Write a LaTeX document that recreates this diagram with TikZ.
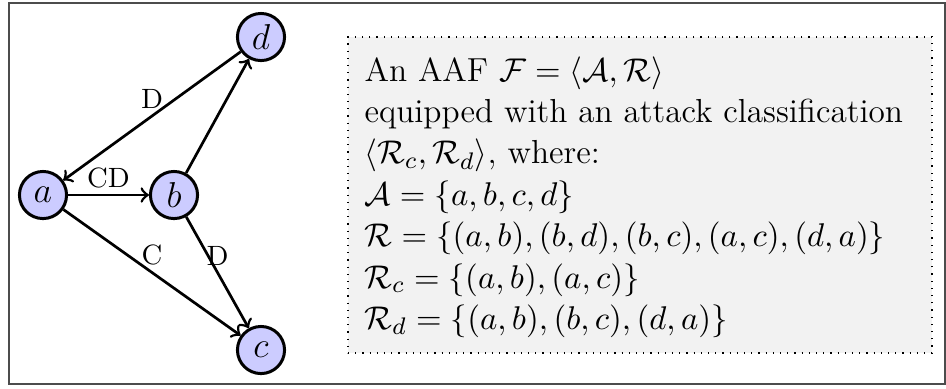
\documentclass[tikz,border=0pt]{standalone}
\usepackage{amsmath,amssymb}
\begin{document}
\begin{tikzpicture}[x=0.3333pt,y=-0.3333pt,
  arg/.style={circle,draw=black,line width=1pt,fill=blue!20,minimum size=15.7pt,inner sep=0pt,font=\fontsize{12}{14}\selectfont},
  att/.style={->,line width=0.9pt},
  lbl/.style={font=\fontsize{9.3}{11}\selectfont,inner sep=2pt},
  infobox/.style={draw=black,dotted,fill=black!5,minimum width=194.67pt,minimum height=105.33pt,inner sep=0pt},
  frame/.style={draw=black!70,line width=0.6pt}]
\useasboundingbox (0,0) rectangle (946,388);
\draw[frame] (9,3) rectangle (945,384);
\node[arg] (a) at (43,195) {$a$};
\node[arg] (b) at (174,195) {$b$};
\node[arg] (c) at (261,350) {$c$};
\node[arg] (d) at (261,37) {$d$};
\draw[att] (a) -- node[lbl,above] {CD} (b);
\draw[att] (b) -- (d);
\draw[att] (b) -- node[lbl,above] {D} (c);
\draw[att] (a) -- node[lbl,above] {C} (c);
\draw[att] (d) -- node[lbl,above] {D} (a);
\node[infobox] (box) at (640,195) {};
\node[anchor=west,align=left,inner sep=0pt,font=\fontsize{11.1}{13.8}\selectfont] (txt) at (364,197) {An AAF $\mathcal{F} = \langle \mathcal{A}, \mathcal{R}\rangle$\\
equipped with an attack classification\\
$\langle \mathcal{R}_c, \mathcal{R}_d\rangle$, where:\\
$\mathcal{A} = \{a,b,c,d\}$\\
$\mathcal{R} = \{(a,b),(b,d),(b,c),(a,c),(d,a)\}$\\
$\mathcal{R}_c = \{(a,b),(a,c)\}$\\
$\mathcal{R}_d = \{(a,b),(b,c),(d,a)\}$};
\end{tikzpicture}
\end{document}
